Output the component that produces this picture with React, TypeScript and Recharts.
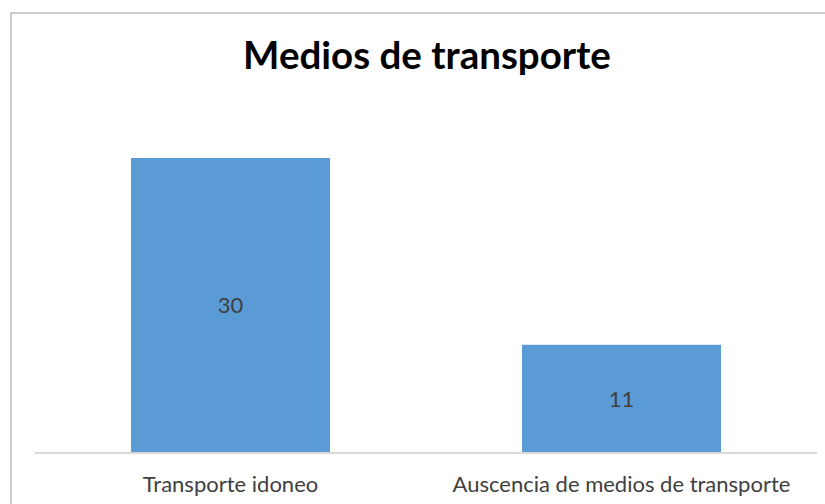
import React from "react";
import { BarChart, Bar, XAxis, YAxis, LabelList, Customized } from "recharts";

// values
const categories = ["Transporte idoneo", "Auscencia de medios de transporte"];
const counts = [30, 11];
const title = "Medios de transporte";

const data = categories.map((name, i) => ({ name, value: counts[i] }));

const FONT = "Lato, 'Open Sans', sans-serif";

const Title = () => (
	<text
		x={427}
		y={69}
		textAnchor="middle"
		fontFamily={FONT}
		fontWeight="bold"
		fontSize={38.5}
		fill="#000000"
	>
		{title}
	</text>
);

const App = () => {
	return (
		<div
			style={{
				position: "fixed",
				left: 0,
				top: 0,
				width: 825,
				height: 504,
				overflow: "hidden",
				background: "#ffffff",
			}}
		>
			{/* chart frame, only top and left edges show in the crop */}
			<div
				style={{
					position: "absolute",
					left: 10,
					top: 12,
					width: 815,
					height: 492,
					borderTop: "2px solid #cccccc",
					borderLeft: "2px solid #cccccc",
				}}
			/>
			<div style={{ position: "absolute", left: 0, top: 0 }}>
				<BarChart
					width={825}
					height={504}
					data={data}
					margin={{ top: 158, right: 8, left: 35, bottom: 11 }}
				>
					<XAxis
						dataKey="name"
						height={40}
						tickSize={0}
						tickMargin={23}
						tickLine={false}
						axisLine={{ stroke: "#d9d9d9", strokeWidth: 2 }}
						tick={{ fontSize: 22, fill: "#404040", fontFamily: FONT }}
						interval={0}
					/>
					<YAxis hide domain={[0, 30]} />
					<Bar
						dataKey="value"
						fill="#5b9bd5"
						barSize={199}
						isAnimationActive={false}
					>
						<LabelList
							dataKey="value"
							position="center"
							fontSize={22}
							fill="#404040"
							fontFamily={FONT}
						/>
					</Bar>
					<Customized component={Title} />
				</BarChart>
			</div>
		</div>
	);
};

export default App;
